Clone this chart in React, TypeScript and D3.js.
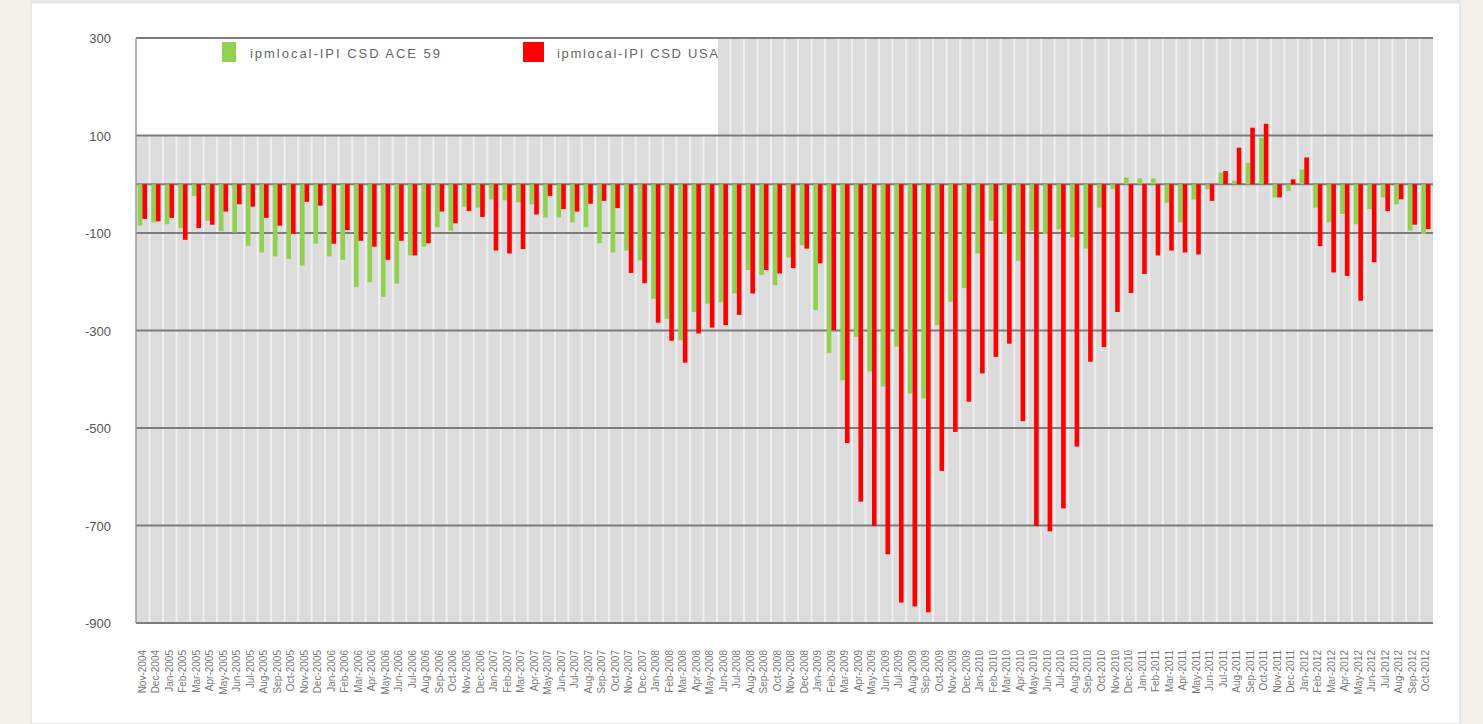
import React, { useEffect, useRef } from 'react';
import * as d3 from 'd3';

// monthly categories, Nov 2004 .. Oct 2012
const months = d3.timeMonth.range(new Date(2004, 10, 1), new Date(2012, 10, 1)).map(d3.timeFormat('%b-%Y'));

const seriesNames = ['ipmlocal-IPI CSD ACE 59', 'ipmlocal-IPI CSD USA'];
const seriesColors = ['#92d050', '#ff0000'];

const ace59 = [
  -85, -78, -82, -90, -24, -75, -96, -99, -126, -140, -148, -153, -167, -122, -148, -155,
  -211, -201, -231, -204, -146, -128, -88, -95, -46, -48, -31, -33, -37, -41, -68, -68,
  -78, -88, -121, -140, -136, -156, -235, -276, -320, -262, -245, -242, -224, -176, -186, -207,
  -150, -125, -258, -346, -402, -313, -384, -415, -333, -429, -439, -289, -241, -213, -142, -75,
  -102, -157, -95, -102, -92, -109, -132, -48, -10, 14, 12, 12, -38, -78, -31, -10,
  24, 7, 44, 95, -27, -14, 30, -48, -78, -61, -82, -51, -27, -41, -95, -102,
];

const usa = [
  -71, -76, -69, -114, -90, -83, -56, -41, -46, -69, -85, -102, -36, -44, -122, -94,
  -116, -128, -155, -116, -146, -121, -56, -80, -55, -67, -136, -142, -133, -62, -24, -51,
  -56, -40, -34, -49, -182, -203, -284, -321, -366, -306, -294, -289, -268, -224, -176, -183,
  -172, -132, -162, -299, -531, -651, -701, -759, -858, -866, -878, -588, -508, -446, -388, -354,
  -327, -486, -701, -712, -665, -538, -364, -334, -262, -223, -184, -146, -136, -140, -144, -34,
  27, 75, 116, 124, -27, 10, 55, -127, -181, -188, -239, -160, -55, -31, -83, -92,
];

const yTicks = [300, 100, -100, -300, -500, -700, -900];

const W = 1483;
const H = 724;

function App() {
  const ref = useRef<SVGSVGElement | null>(null);

  useEffect(() => {
    document.body.style.margin = '0';
    const svg = d3.select(ref.current);
    svg.selectAll('*').remove();

    const left = 136, right = 1433, top = 38, bottom = 623;
    const font = '"Liberation Sans", Arial, sans-serif';

    const x = d3.scaleBand<string>().domain(months).range([left, right]).padding(0);
    const xs = d3.scaleBand<string>().domain(['ace', 'usa']).range([1.8, 11]).padding(0);
    const y = d3.scaleLinear().domain([-900, 300]).range([bottom, top]);

    // page + white panel
    svg.append('rect').attr('width', W).attr('height', H).attr('fill', '#f3f0ec');
    svg.append('rect').attr('x', 31).attr('y', 0).attr('width', 1429).attr('height', H)
      .attr('fill', '#ffffff').attr('stroke', '#e2e2e2').attr('stroke-width', 1.5);
    svg.append('line').attr('x1', 31).attr('x2', 1460).attr('y1', 2).attr('y2', 2)
      .attr('stroke', '#e6e6e6').attr('stroke-width', 3);

    // plot background with category stripes
    svg.append('rect').attr('x', left).attr('y', top).attr('width', right - left).attr('height', bottom - top)
      .attr('fill', '#dcdcdc');
    svg.append('g').selectAll('rect').data(months.slice(1)).enter().append('rect')
      .attr('x', (d) => (x(d) as number) - 1)
      .attr('y', top)
      .attr('width', 2)
      .attr('height', bottom - top)
      .attr('fill', '#efefef');

    // legend box
    svg.append('rect').attr('x', left).attr('y', top).attr('width', 718 - left).attr('height', y(100) - top)
      .attr('fill', '#ffffff');

    // grid lines
    svg.append('g').selectAll('line').data([...yTicks, 0]).enter().append('line')
      .attr('x1', left).attr('x2', right)
      .attr('y1', (d) => y(d)).attr('y2', (d) => y(d))
      .attr('stroke', '#7c7c7c').attr('stroke-width', 2);
    svg.append('line').attr('x1', left).attr('x2', left).attr('y1', top).attr('y2', bottom)
      .attr('stroke', '#9a9a9a').attr('stroke-width', 1.5);

    // bars
    const series = [
      { key: 'ace', values: ace59, color: seriesColors[0] },
      { key: 'usa', values: usa, color: seriesColors[1] },
    ];
    series.forEach((s) => {
      svg.append('g').selectAll('rect').data(s.values).enter().append('rect')
        .attr('x', (_, i) => (x(months[i]) as number) + (xs(s.key) as number))
        .attr('width', xs.bandwidth())
        .attr('y', (d) => y(Math.max(0, d)))
        .attr('height', (d) => Math.abs(y(d) - y(0)))
        .attr('fill', s.color);
    });

    // legend
    const legendX = [222, 523];
    const legendW = [190, 161];
    seriesNames.forEach((name, i) => {
      svg.append('rect').attr('x', legendX[i]).attr('y', 42).attr('width', i === 0 ? 14 : 21).attr('height', 20)
        .attr('fill', seriesColors[i]);
      svg.append('text').attr('x', legendX[i] + (i === 0 ? 28 : 34)).attr('y', 58)
        .attr('font-family', font).attr('font-size', 13).attr('fill', '#666')
        .attr('textLength', legendW[i]).attr('lengthAdjust', 'spacing')
        .text(name);
    });

    // y labels
    svg.append('g').selectAll('text').data(yTicks).enter().append('text')
      .attr('x', 111).attr('y', (d) => y(d) + 5)
      .attr('text-anchor', 'end')
      .attr('font-family', font).attr('font-size', 13).attr('fill', '#555')
      .text((d) => d);

    // x labels
    svg.append('g').selectAll('text').data(months).enter().append('text')
      .attr('transform', (d) => `translate(${(x(d) as number) + x.bandwidth() / 2 + 3}, 650) rotate(-90)`)
      .attr('text-anchor', 'end')
      .attr('font-family', font).attr('font-size', 10).attr('fill', '#777')
      .text((d) => d);
  }, []);

  return <svg ref={ref} width={W} height={H} style={{ position: 'absolute', left: 0, top: 0 }} />;
}

export default App;
